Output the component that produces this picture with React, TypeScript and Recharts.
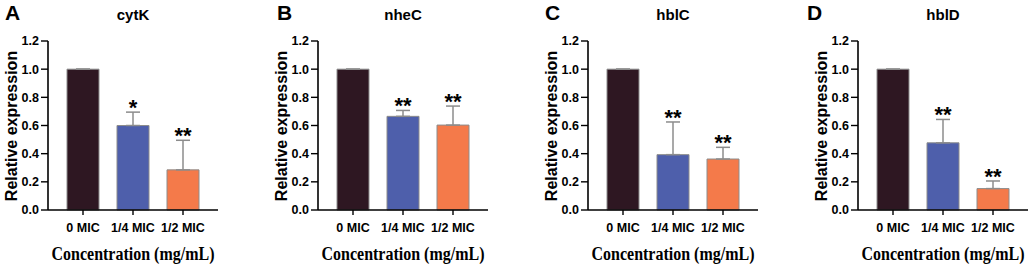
import { BarChart, Bar, XAxis, YAxis, Cell, ErrorBar, LabelList, Label } from "recharts";

const categories = ["0 MIC", "1/4 MIC", "1/2 MIC"];
const panelLetters = ["A", "B", "C", "D"];
const genes = ["cytK", "nheC", "hblC", "hblD"];
const yTicks = [0, 0.2, 0.4, 0.6, 0.8, 1.0, 1.2];

const cytK = [1.0, 0.6, 0.285];
const cytKErr = [0, 0.095, 0.21];
const cytKSig = ["", "*", "**"];

const nheC = [1.0, 0.665, 0.603];
const nheCErr = [0, 0.042, 0.135];
const nheCSig = ["", "**", "**"];

const hblC = [1.0, 0.393, 0.362];
const hblCErr = [0, 0.232, 0.083];
const hblCSig = ["", "**", "**"];

const hblD = [1.0, 0.477, 0.152];
const hblDErr = [0, 0.166, 0.054];
const hblDSig = ["", "**", "**"];

const barColors = ["#2e1722", "#4e5fab", "#f47a4a"];
const edge = "#8c8c8c";

const panels = [
  { values: cytK, errs: cytKErr, sigs: cytKSig },
  { values: nheC, errs: nheCErr, sigs: nheCSig },
  { values: hblC, errs: hblCErr, sigs: hblCSig },
  { values: hblD, errs: hblDErr, sigs: hblDSig },
];

const PANEL_W = 270;
const PAGE_W = 1031;
const letterX = [5, 277, 545, 807];

type Row = { name: string; value: number; err: [number, number]; sig: string };

function Panel({ idx }: { idx: number }) {
  const p = panels[idx];
  const rows: Row[] = categories.map((name, i) => ({
    name,
    value: p.values[i],
    err: [0, p.errs[i]],
    sig: p.sigs[i],
  }));
  const left = idx * PANEL_W;
  const width = Math.min(PANEL_W, PAGE_W - left);

  const star = (props: any) => {
    const row = rows[props.index];
    if (!row || !row.sig) return null;
    const x = Number(props.x);
    const y = Number(props.y);
    const w = Number(props.width);
    const h = Number(props.height);
    const top = y - (row.err[1] * h) / row.value;
    return (
      <text x={x + w / 2} y={top + 3} textAnchor="middle" fontSize={22} fontWeight="bold" fill="#000">
        {row.sig}
      </text>
    );
  };

  return (
    <div style={{ position: "absolute", left, top: 0 }}>
      <BarChart width={width} height={265} data={rows} margin={{ top: 41, right: width - 218, bottom: 0, left: 0 }}>
        <XAxis
          dataKey="name"
          padding={{ left: 10, right: 10 }}
          height={55}
          tickSize={5}
          tickMargin={8}
          interval={0}
          axisLine={{ stroke: "#000", strokeWidth: 1.6 }}
          tickLine={{ stroke: "#000", strokeWidth: 1.4 }}
          tick={{ fontSize: 12.5, fontWeight: "bold", fill: "#000" }}
        >
          <Label
            content={() => (
              <text
                transform="translate(133 260) scale(1 1.15)"
                textAnchor="middle"
                fontFamily="'Liberation Serif', 'Times New Roman', serif"
                fontWeight="bold"
                fontSize={16}
                fill="#000"
              >
                Concentration (mg/mL)
              </text>
            )}
          />
        </XAxis>
        <YAxis
          domain={[0, 1.2]}
          ticks={yTicks}
          width={48}
          tickSize={7}
          tickFormatter={(v: number) => v.toFixed(1)}
          axisLine={{ stroke: "#000", strokeWidth: 1.6 }}
          tickLine={{ stroke: "#000", strokeWidth: 1.4 }}
          tick={{ fontSize: 12.5, fontWeight: "bold", fill: "#000" }}
        >
          <Label
            content={() => (
              <text
                x={11}
                y={126}
                transform="rotate(-90 11 126)"
                textAnchor="middle"
                dominantBaseline="central"
                fontSize={16}
                fontWeight="bold"
                fill="#000"
              >
                Relative expression
              </text>
            )}
          />
        </YAxis>
        <Bar dataKey="value" barSize={32} stroke={edge} strokeWidth={1} isAnimationActive={false}>
          {rows.map((r, i) => (
            <Cell key={r.name} fill={barColors[i]} />
          ))}
          <ErrorBar dataKey="err" width={7} stroke={edge} strokeWidth={1.5} />
          <LabelList dataKey="sig" content={star} />
        </Bar>
      </BarChart>
    </div>
  );
}

export default function App() {
  return (
    <div
      style={{
        position: "absolute",
        left: 0,
        top: 0,
        width: PAGE_W,
        height: 265,
        overflow: "hidden",
        background: "#fff",
        fontFamily: "'Liberation Sans', Arial, Helvetica, sans-serif",
      }}
    >
      {panels.map((_, i) => (
        <Panel key={i} idx={i} />
      ))}
      {panelLetters.map((l, i) => (
        <div
          key={l}
          style={{ position: "absolute", left: letterX[i], top: 2, fontSize: 21, fontWeight: "bold", lineHeight: "22px" }}
        >
          {l}
        </div>
      ))}
      {genes.map((g, i) => (
        <div
          key={g}
          style={{
            position: "absolute",
            left: i * PANEL_W + 133,
            top: 15,
            transform: "translate(-50%, -50%)",
            fontSize: 15,
            fontWeight: "bold",
            lineHeight: "18px",
            whiteSpace: "nowrap",
          }}
        >
          {g}
        </div>
      ))}
    </div>
  );
}
